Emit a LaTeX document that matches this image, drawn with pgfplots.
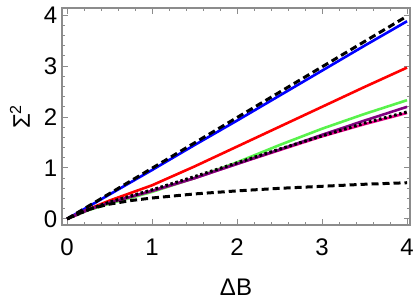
\documentclass[border=0pt]{standalone}
\usepackage{fontspec}
\setmainfont{Liberation Sans}
\usepackage{pgfplots}
\pgfplotsset{compat=1.18}
\definecolor{mgreen}{rgb}{0.35,0.95,0.3}
\definecolor{mpurple}{rgb}{0.5,0.0,0.5}
\definecolor{framegray}{gray}{0.55}
\begin{document}
\begin{tikzpicture}
\path[use as bounding box] (-31pt,-37.5pt) rectangle (176.5pt,112.5pt);
\begin{axis}[
  at={(0pt,0pt)}, anchor=south west,
  scale only axis, width=174pt, height=108.5pt,
  xmin=-0.06, xmax=4.035, ymin=-0.12, ymax=4.14,
  xtick={0,1,2,3,4}, ytick={0,1,2,3,4},
  minor x tick num=4, minor y tick num=4,
  tick align=inside,
  major tick length=3pt, minor tick length=1.6pt,
  every tick/.style={framegray, line width=0.5pt},
  axis line style={framegray, line width=0.6pt},
  font=\fontsize{12}{14}\selectfont,
  /pgf/number format/assume math mode=true,
  xticklabel style={anchor=base, yshift=-15pt},
  yticklabel style={anchor=east, xshift=1.2pt},
  xlabel={ΔB},
  ylabel={Σ\textsuperscript{2}},
  xlabel style={at={(axis description cs:0.5,0)}, anchor=center, yshift=-31pt},
  ylabel style={at={(axis description cs:0,0.5)}, anchor=center, yshift=21pt},
  clip=true,
]
% blue
\addplot[blue, line width=1.3pt] coordinates {(0,0) (0.5,0.48) (1,0.96) (1.5,1.45) (2,1.93) (2.5,2.42) (3,2.91) (3.5,3.40) (4,3.88)};
% red
\addplot[red, line width=1.3pt] coordinates {(0,0) (0.25,0.19) (0.5,0.36) (1,0.66) (1.5,1.03) (2,1.42) (2.5,1.81) (3,2.20) (3.5,2.59) (4,2.97)};
% green
\addplot[mgreen, line width=1.3pt] coordinates {(0,0) (0.25,0.17) (0.5,0.30) (1,0.53) (1.5,0.80) (2,1.11) (2.5,1.45) (3,1.77) (3.5,2.06) (4,2.33)};
% magenta
\addplot[magenta, line width=1.3pt] coordinates {(0,0) (0.25,0.18) (0.5,0.32) (1,0.55) (1.5,0.80) (2,1.08) (2.5,1.35) (3,1.62) (3.5,1.86) (4,2.08)};
% purple
\addplot[mpurple, line width=1.3pt] coordinates {(0,0) (0.25,0.18) (0.5,0.32) (1,0.55) (1.5,0.80) (2,1.08) (2.5,1.36) (3,1.65) (3.5,1.93) (4,2.20)};
% upper dashed
\addplot[black, line width=1.5pt, dash pattern=on 3.5pt off 2pt] coordinates {(0,0) (1,0.995) (2,1.99) (3,2.985) (4,3.98)};
% dotted
\addplot[black, line width=1.5pt, dash pattern=on 1.3pt off 1.3pt] coordinates {(0,0) (0.25,0.18) (0.5,0.33) (1,0.57) (1.5,0.83) (2,1.10) (2.5,1.37) (3,1.63) (3.5,1.88) (4,2.10)};
% lower dashed
\addplot[black, line width=1.5pt, dash pattern=on 3.5pt off 2pt] coordinates {(0,0) (0.1,0.08) (0.2,0.15) (0.3,0.21) (0.5,0.29) (0.75,0.36) (1,0.41) (1.5,0.49) (2,0.55) (2.5,0.60) (3,0.64) (3.5,0.68) (4,0.71)};
\end{axis}
\end{tikzpicture}
\end{document}
